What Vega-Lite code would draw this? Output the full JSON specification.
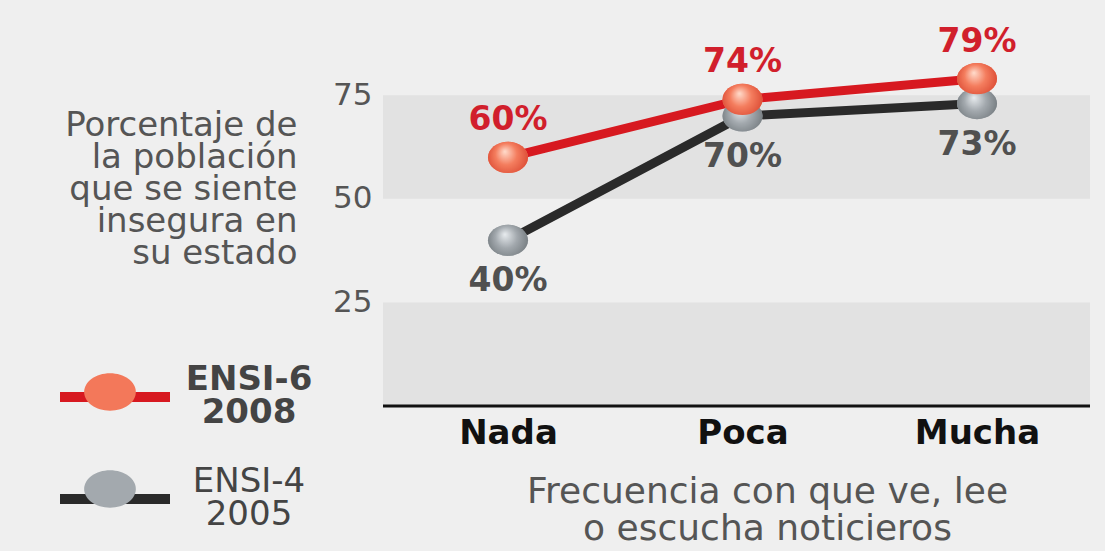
{
  "$schema": "https://vega.github.io/schema/vega-lite/v6.json",
  "width": 707,
  "height": 406,
  "padding": {"left": 383, "top": 0, "right": 15, "bottom": 145},
  "autosize": {"type": "none"},
  "background": "#efefef",
  "config": {"view": {"stroke": null}, "font": "DejaVu Sans"},
  "datasets": {
    "bandas": [
      {"desde": 50, "hasta": 75},
      {"desde": 0, "hasta": 25}
    ],
    "datos": [
      {"serie": "ENSI-4", "frecuencia": "Nada", "valor": 40, "etiqueta": "40%"},
      {"serie": "ENSI-4", "frecuencia": "Poca", "valor": 70, "etiqueta": "70%"},
      {"serie": "ENSI-4", "frecuencia": "Mucha", "valor": 73, "etiqueta": "73%"},
      {"serie": "ENSI-6", "frecuencia": "Nada", "valor": 60, "etiqueta": "60%"},
      {"serie": "ENSI-6", "frecuencia": "Poca", "valor": 74, "etiqueta": "74%"},
      {"serie": "ENSI-6", "frecuencia": "Mucha", "valor": 79, "etiqueta": "79%"}
    ]
  },
  "layer": [
    {
      "data": {"name": "bandas"},
      "mark": {"type": "rect", "fill": "#e2e2e2"},
      "encoding": {
        "y": {
          "field": "desde", "type": "quantitative",
          "scale": {"domain": [0, 98], "nice": false, "zero": true},
          "axis": {
            "values": [25, 50, 75], "ticks": false, "domain": false, "grid": false,
            "labelFontSize": 31, "labelColor": "#555555", "labelPadding": 11,
            "title": ["Porcentaje de", "la población", "que se siente", "insegura en", "su estado"],
            "titleAngle": 0, "titleAlign": "right", "titleBaseline": "alphabetic",
            "titleX": -86, "titleY": 135, "titleFontSize": 34, "titleFontWeight": "normal",
            "titleColor": "#555555", "titleLineHeight": 32
          }
        },
        "y2": {"field": "hasta"}
      }
    },
    {
      "data": {"values": [{"base": 0}]},
      "mark": {"type": "rule", "color": "#111111", "strokeWidth": 3},
      "encoding": {"y": {"field": "base", "type": "quantitative"}}
    },
    {
      "data": {"name": "datos"},
      "mark": {"type": "line", "strokeWidth": 9},
      "encoding": {
        "x": {
          "field": "frecuencia", "type": "nominal",
          "scale": {"type": "point", "domain": ["Nada", "Poca", "Mucha"], "range": [125, 594], "padding": 0},
          "axis": {
            "ticks": false, "domain": false, "grid": false, "labelAngle": 0,
            "labelFontSize": 34, "labelFontWeight": "bold", "labelColor": "#111111",
            "labelPadding": 37, "labelBaseline": "alphabetic",
            "title": ["Frecuencia con que ve, lee", "o escucha noticieros"],
            "titleX": 384, "titleY": 96, "titleAlign": "center", "titleBaseline": "alphabetic",
            "titleFontSize": 36, "titleFontWeight": "normal", "titleColor": "#555555", "titleLineHeight": 37
          }
        },
        "y": {"field": "valor", "type": "quantitative"},
        "stroke": {
          "field": "serie", "type": "nominal",
          "scale": {"domain": ["ENSI-6", "ENSI-4"], "range": ["#d71920", "#2a2a2a"]},
          "legend": {
            "orient": "none", "legendX": -328, "legendY": 337, "title": null,
            "symbolType": "stroke", "symbolSize": 12100, "symbolStrokeWidth": 10,
            "labelFontSize": 34, "labelColor": "#444444", "labelAlign": "center",
            "labelOffset": 74, "labelBaseline": "middle", "labelLimit": 0,
            "labelExpr": "datum.value == 'ENSI-6' ? ['ENSI-6', '2008'] : ['ENSI-4', '2005']",
            "rowPadding": 9, "padding": 0,
            "encode": {"labels": {"update": {
              "fontWeight": {"signal": "datum.value == 'ENSI-6' ? 'bold' : 'normal'"},
              "lineHeight": {"value": 33},
              "dy": {"value": -17}
            }}}
          }
        }
      }
    },
    {
      "data": {"name": "datos"},
      "mark": {"type": "point", "filled": true, "size": 1600, "opacity": 1, "strokeWidth": 0,
               "shape": "M-1,0A1,0.78 0 1,1 1,0A1,0.78 0 1,1 -1,0Z"},
      "encoding": {
        "x": {"field": "frecuencia", "type": "nominal"},
        "y": {"field": "valor", "type": "quantitative"},
        "fill": {
          "field": "serie", "type": "nominal", "sort": "descending",
          "scale": {"range": ["#f3785a", "#a3a9ae"]},
          "legend": {
            "orient": "none", "legendX": -328, "legendY": 337, "title": null,
            "symbolType": "M-0.47,0A0.47,0.34 0 1,1 0.47,0A0.47,0.34 0 1,1 -0.47,0Z",
            "symbolSize": 12100, "symbolStrokeWidth": 0, "symbolOpacity": 1,
            "labelFontSize": 34, "labelOpacity": 0, "labelAlign": "center",
            "labelOffset": 74, "labelBaseline": "middle", "labelLimit": 0,
            "labelExpr": "datum.value == 'ENSI-6' ? ['ENSI-6', '2008'] : ['ENSI-4', '2005']",
            "rowPadding": 9, "padding": 0,
            "encode": {"labels": {"update": {
              "fontWeight": {"signal": "datum.value == 'ENSI-6' ? 'bold' : 'normal'"},
              "lineHeight": {"value": 33},
              "dy": {"value": -17}
            }}}
          }
        }
      }
    },
    {
      "data": {"name": "datos"},
      "transform": [{"filter": "datum.serie == 'ENSI-4'"}],
      "mark": {"type": "point", "filled": true, "size": 1600, "opacity": 1, "strokeWidth": 0,
               "shape": "M-1,0A1,0.78 0 1,1 1,0A1,0.78 0 1,1 -1,0Z",
               "fill": {"gradient": "radial", "x1": 0.42, "y1": 0.35, "r1": 0, "x2": 0.5, "y2": 0.5, "r2": 0.6,
                        "stops": [{"offset": 0, "color": "#e8ecef"}, {"offset": 0.45, "color": "#a3a9ae"}, {"offset": 1, "color": "#6b7276"}]}},
      "encoding": {
        "x": {"field": "frecuencia", "type": "nominal"},
        "y": {"field": "valor", "type": "quantitative"}
      }
    },
    {
      "data": {"name": "datos"},
      "transform": [{"filter": "datum.serie == 'ENSI-6'"}],
      "mark": {"type": "point", "filled": true, "size": 1600, "opacity": 1, "strokeWidth": 0,
               "shape": "M-1,0A1,0.78 0 1,1 1,0A1,0.78 0 1,1 -1,0Z",
               "fill": {"gradient": "radial", "x1": 0.42, "y1": 0.35, "r1": 0, "x2": 0.5, "y2": 0.5, "r2": 0.6,
                        "stops": [{"offset": 0, "color": "#ffdccc"}, {"offset": 0.45, "color": "#f47d5e"}, {"offset": 1, "color": "#d6402b"}]}},
      "encoding": {
        "x": {"field": "frecuencia", "type": "nominal"},
        "y": {"field": "valor", "type": "quantitative"}
      }
    },
    {
      "data": {"name": "datos"},
      "transform": [{"filter": "datum.serie == 'ENSI-6'"}],
      "mark": {"type": "text", "dy": -37, "fontSize": 33, "fontWeight": "bold", "color": "#d11f2c"},
      "encoding": {
        "x": {"field": "frecuencia", "type": "nominal"},
        "y": {"field": "valor", "type": "quantitative"},
        "text": {"field": "etiqueta"}
      }
    },
    {
      "data": {"name": "datos"},
      "transform": [{"filter": "datum.serie == 'ENSI-4'"}],
      "mark": {"type": "text", "dy": 41, "fontSize": 33, "fontWeight": "bold", "color": "#505050"},
      "encoding": {
        "x": {"field": "frecuencia", "type": "nominal"},
        "y": {"field": "valor", "type": "quantitative"},
        "text": {"field": "etiqueta"}
      }
    }
  ]
}
